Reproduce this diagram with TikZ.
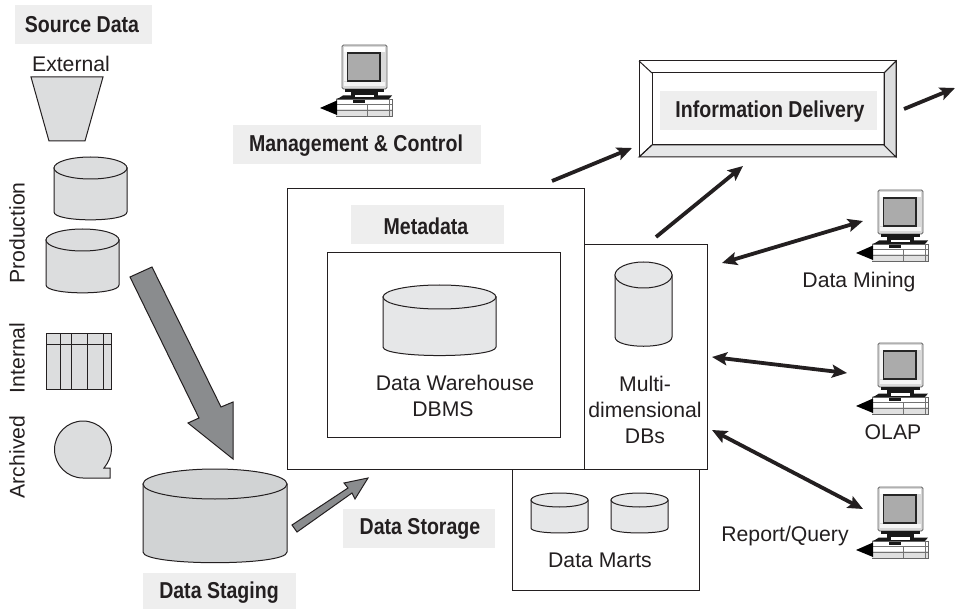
\documentclass[tikz,border=0pt]{standalone}
\usepackage{fontspec}
\setmainfont{Liberation Sans}
\newfontfamily\lblfont[FakeStretch=0.85]{Liberation Sans Bold}
\usetikzlibrary{arrows.meta}
\definecolor{ink}{HTML}{231F20}
\definecolor{lblgray}{HTML}{EEEEEE}
\definecolor{shapegray}{HTML}{DCDDDE}
\definecolor{lightgray2}{HTML}{E6E7E8}
\definecolor{stagegray}{HTML}{D1D3D4}
\definecolor{arrowgray}{HTML}{8A8C8E}
\tikzset{
  x=1pt,y=-1pt,
  txt/.style={font=\fontsize{21.2}{24}\selectfont,text=ink,inner sep=0pt},
  lbl/.style={font=\lblfont\fontsize{23}{26}\selectfont,text=ink,inner sep=0pt},
  lblbg/.style={fill=lblgray,draw=none},
  boxst/.style={draw=ink,line width=1pt,inner sep=0pt},
  shapest/.style={draw=ink,line width=1pt,fill=shapegray},
  flow/.style={draw=ink,line width=3.8pt,-{Stealth[length=15pt,width=13pt,inset=3pt]}},
  flowboth/.style={draw=ink,line width=3.8pt,{Stealth[length=15pt,width=13pt,inset=3pt]}-{Stealth[length=15pt,width=13pt,inset=3pt]}},
  bigarrow/.style={draw=ink,line width=1pt,fill=arrowgray,line join=miter},
  computer/.pic={
    \draw[line width=.9pt,draw=black!60,fill=black!15,rounded corners=1.5pt] (0,0) rectangle (45,44);
    \fill[white] (2,2) rectangle (43,7);
    \fill[black!4] (2,7) rectangle (5,36);
    \fill[black!4] (2,37) rectangle (43,41);
    \draw[line width=1.5pt,draw=black!85,fill=black!33] (5.5,8) rectangle (38,36);
    \fill[black!90] (3,44) rectangle (42,47);
    \fill[black!90] (9,47) rectangle (36,51);
    \fill[black!90] (-3,53) -- (1,50.5) -- (50,50.5) -- (47,54) -- (-6,54) -- cycle;
    \fill[white] (13,50) rectangle (32,52.5);
    \draw[line width=.7pt,draw=black!60,fill=white] (-6,54) rectangle (50,71);
    \fill[black!12] (-6,64) rectangle (50,70.6);
    \draw[line width=.4pt,draw=black!55] (-6,59) -- (50,59) (-6,65) -- (50,65) (25,59) -- (25,71) (47,54) -- (47,71);
    \fill[black!90] (11,55) rectangle (23,58);
    \fill[black] (-22,63) -- (-5,55.5) -- (-5,70) -- cycle;
  }
}
\newcommand{\cyl}[6]{% x1 x2 top mid sidebottom fill
  \pgfmathsetmacro{\cx}{(#1+#2)/2}\pgfmathsetmacro{\ca}{(#2-#1)/2}
  \pgfmathsetmacro{\cb}{#4-#3}
  \filldraw[shapest,fill=#6] (#1,#4) -- (#1,#5) .. controls (#1,#5+\cb*.95) and (#2,#5+\cb*.95) .. (#2,#5) -- (#2,#4) -- cycle;
  \filldraw[shapest,fill=#6] (\cx,#4) ellipse (\ca pt and \cb pt);
}
\begin{document}
\begin{tikzpicture}
\useasboundingbox (0,0) rectangle (955,609);
\fill[white] (0,0) rectangle (955,609);

% label backgrounds and texts
\fill[lblbg] (15,5) rectangle (152,44);
\node[lbl] (source) at (82,25) {Source Data};
\node[txt] (external) at (71,64) {External};
\node[txt,rotate=90] (production) at (17,233) {Production};
\node[txt,rotate=90] (internal) at (17,358) {Internal};
\node[txt,rotate=90] (archived) at (17,457) {Archived};

% source shapes
\filldraw[shapest] (31,77) -- (103,77) -- (85,141) -- (49,141) -- cycle;
\cyl{54}{127}{157}{168}{212}{shapegray}
\cyl{46}{119}{229}{240}{285}{shapegray}
\filldraw[shapest] (46.5,333) rectangle (111.5,389);
\draw[shapest,fill=none] (46.5,344) -- (111.5,344) (60,333) -- (60,389) (71,333) -- (71,389) (87,333) -- (87,389) (103,333) -- (103,389);
\filldraw[shapest] (104,468) -- (110,468) -- (110,478) -- (83,478)
  .. controls (67.3,478) and (54.5,465.2) .. (54.5,449.5)
  .. controls (54.5,433.8) and (67.3,421) .. (83,421)
  .. controls (98.7,421) and (111.5,433.8) .. (111.5,449.5)
  .. controls (111.5,456) and (108,463) .. (104,468) -- cycle;

% big arrows
\filldraw[bigarrow] (130,277) -- (152,267) -- (221,407) -- (233,402) -- (233,459) -- (188,423) -- (199,418) -- cycle;
\cyl{143}{287}{469}{484}{552}{stagegray}
\fill[lblbg] (143,573) rectangle (296,609);
\node[lbl] (staging) at (219,593) {Data Staging};
\filldraw[bigarrow] (292,525) -- (348,488) -- (344,483) -- (368,478) -- (355,499) -- (352,493) -- (297,532) -- cycle;

\fill[lblbg] (343,509) rectangle (495,548);
\node[lbl] (storage) at (420,529) {Data Storage};

% management
\pic at (342,45) {computer};
\fill[lblbg] (233,125) rectangle (481,164);
\node[lbl] (mgmt) at (356,146) {Management \& Control};

% storage boxes
\node[boxst,minimum width=187pt,minimum height=121pt] (marts) at (605.5,529.5) {};
\node[boxst,minimum width=297pt,minimum height=280pt] (meta) at (435.5,329) {};
\node[boxst,minimum width=123pt,minimum height=224pt] (mdb) at (645.5,357) {};
\node[boxst,minimum width=233pt,minimum height=184pt] (dw) at (443.5,345) {};
\fill[lblbg] (351,205) rectangle (504,244);
\node[lbl] (metalbl) at (426,226) {Metadata};
\cyl{383}{496}{285}{297}{347}{lightgray2}
\node[txt] (dwtxt) at (455,383) {Data Warehouse};
\node[txt] (dbms) at (443,409) {DBMS};
\cyl{615}{672}{262}{275}{337}{lightgray2}
\node[txt] (multi) at (645,384) {Multi-};
\node[txt] (dimen) at (645,410) {dimensional};
\node[txt] (dbs) at (645,436) {DBs};
\cyl{531}{588}{493}{500}{528}{lightgray2}
\cyl{611}{668}{493}{500}{528}{lightgray2}
\node[txt] (martstxt) at (600,560) {Data Marts};

% information delivery frame
\filldraw[shapest,fill=white] (639,61) rectangle (896,157);
\filldraw[shapest,fill=lightgray2] (639,157) -- (652,145) -- (884,145) -- (896,157) -- cycle;
\filldraw[shapest,fill=shapegray] (896,61) -- (884,73) -- (884,145) -- (896,157) -- cycle;
\draw[shapest,fill=none] (639,61) -- (652,73) (896,61) -- (884,73) (639,157) -- (652,145);
\draw[shapest,fill=none] (652,73) rectangle (884,145);
\fill[lblbg] (660,91) rectangle (877,130);
\node[lbl] (info) at (770,112) {Information Delivery};

% computers
\pic at (878,190) {computer};
\pic at (878,343) {computer};
\pic at (878,487) {computer};
\node[txt] (mining) at (859,282) {Data Mining};
\node[txt] (olap) at (893,432) {OLAP};
\node[txt] (report) at (785,536) {Report/Query};

% connector ends
\coordinate (a1) at (552,181); \coordinate (a2) at (632,148);
\coordinate (b1) at (656,237); \coordinate (b2) at (743,166);
\coordinate (c1) at (904,109); \coordinate (c2) at (955,88);
\coordinate (d1) at (722,263); \coordinate (d2) at (863,221);
\coordinate (e1) at (712,357); \coordinate (e2) at (847,373);
\coordinate (f1) at (712,430); \coordinate (f2) at (863,509);
\draw[flow] (a1) -- (a2);
\draw[flow] (b1) -- (b2);
\draw[flow] (c1) -- (c2);
\draw[flowboth] (d1) -- (d2);
\draw[flowboth] (e1) -- (e2);
\draw[flowboth] (f1) -- (f2);
\end{tikzpicture}
\end{document}
